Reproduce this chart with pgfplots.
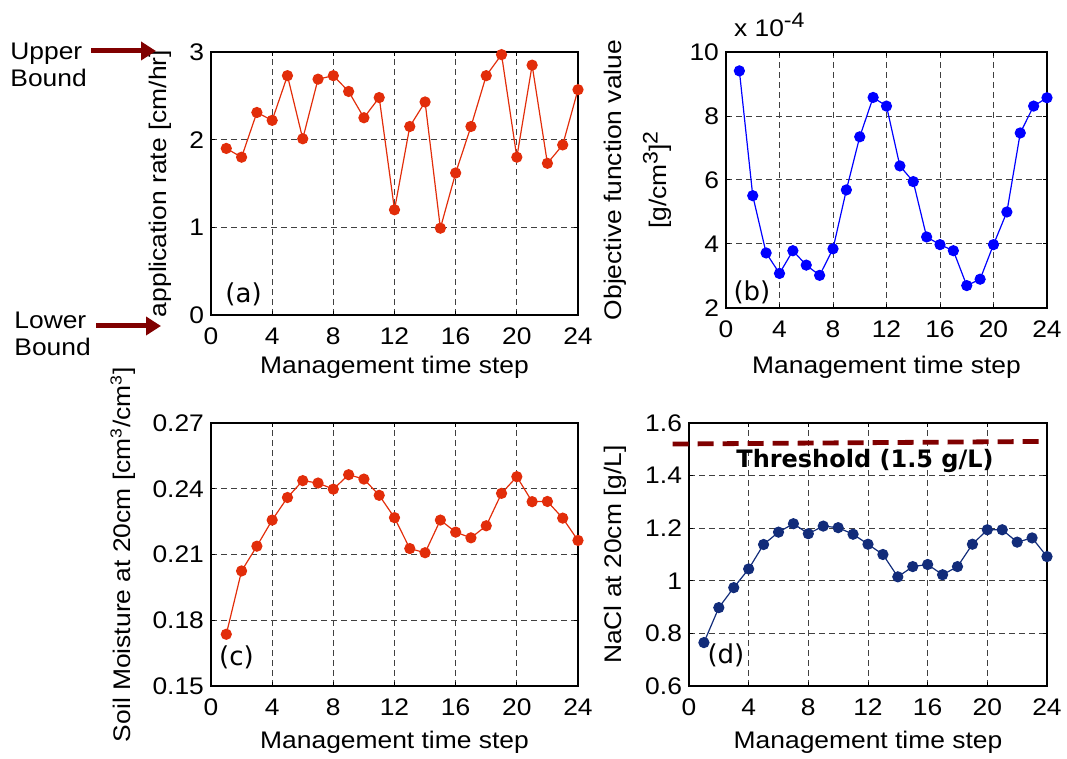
\documentclass[border=0pt]{standalone}
\usepackage{pgfplots}
\pgfplotsset{compat=1.18}
\usepackage{pgfplotstable}
\usepackage{fontspec}
\setmainfont{Liberation Sans}[FakeStretch=1.1]
\newfontfamily\dejavu{DejaVu Sans}
\usetikzlibrary{arrows.meta}

\definecolor{ptred}{RGB}{226,45,10}
\definecolor{ptblue}{RGB}{0,0,255}
\definecolor{ptnavy}{RGB}{18,44,122}
\definecolor{bound}{RGB}{128,0,0}

% application rate [cm/hr]
\pgfplotstableread{
t v
1 1.90
2 1.80
3 2.31
4 2.22
5 2.73
6 2.01
7 2.69
8 2.73
9 2.55
10 2.25
11 2.48
12 1.20
13 2.15
14 2.43
15 0.99
16 1.62
17 2.15
18 2.73
19 2.97
20 1.80
21 2.85
22 1.73
23 1.94
24 2.57
}\rateA

% objective function value (x 1e-4)
\pgfplotstableread{
t v
1 9.41
2 5.51
3 3.72
4 3.08
5 3.79
6 3.34
7 3.02
8 3.85
9 5.69
10 7.35
11 8.58
12 8.31
13 6.44
14 5.95
15 4.22
16 3.98
17 3.79
18 2.70
19 2.90
20 3.98
21 5.00
22 7.47
23 8.31
24 8.57
}\objB

% soil moisture at 20cm
\pgfplotstableread{
t v
1 0.1736
2 0.2025
3 0.2138
4 0.2257
5 0.2360
6 0.2437
7 0.2426
8 0.2398
9 0.2464
10 0.2444
11 0.2370
12 0.2268
13 0.2127
14 0.2108
15 0.2257
16 0.2202
17 0.2176
18 0.2231
19 0.2379
20 0.2455
21 0.2341
22 0.2342
23 0.2266
24 0.2164
}\moistC

% NaCl at 20cm
\pgfplotstableread{
t v
1 0.765
2 0.898
3 0.974
4 1.045
5 1.138
6 1.185
7 1.217
8 1.179
9 1.208
10 1.202
11 1.177
12 1.139
13 1.100
14 1.015
15 1.054
16 1.062
17 1.023
18 1.054
19 1.139
20 1.194
21 1.194
22 1.147
23 1.163
24 1.092
}\naclD

\tikzset{tag/.style={font=\dejavu\fontsize{13}{15}\selectfont}}
\newcommand{\upsc}[1]{\raisebox{4.5pt}{\fontsize{10.5}{12}\selectfont #1}}

\pgfplotsset{
  panel/.style={
    scale only axis, anchor=south west,
    xmin=0, xmax=24, xtick={0,4,...,24},
    grid=major,
    major grid style={black!75, dash pattern=on 3pt off 2pt, line width=0.5pt},
    axis line style={line width=0.7pt},
    tick style={black, line width=0.5pt}, major tick length=2pt,
    ticklabel style={font=\fontsize{12}{14}\selectfont},
    xticklabel style={yshift=-3pt},
    label style={font=\fontsize{12}{14}\selectfont},
    /pgf/number format/assume math mode=true,
    xlabel={Management time step},
    every axis plot/.append style={line width=0.6pt, mark=*, mark size=2.5pt},
    clip=false,
  },
}

\begin{document}
\begin{tikzpicture}
\path[use as bounding box] (0,0) rectangle (533.5pt,379.5pt);

% (a)
\begin{axis}[panel, at={(105.5pt,222pt)}, width=183.5pt, height=131.5pt,
  ymin=0, ymax=3, ytick={0,1,2,3},
  ylabel={application rate [cm/hr]},
  ylabel style={at={(axis description cs:-0.139,0.5)}, anchor=center},
  xlabel style={at={(axis description cs:0.5,-0.198)}, anchor=center}]
\addplot[ptred, mark options={fill=ptred}] table[x=t, y=v] {\rateA};
\node[tag] at (axis cs:2.13,0.23) {(a)};
\end{axis}

% (b)
\begin{axis}[panel, at={(363pt,225.5pt)}, width=160.5pt, height=128pt,
  ymin=2, ymax=10, ytick={2,4,6,8,10},
  ylabel={Objective function value\\[7pt][g/cm\upsc{3}]\upsc{2}},
  ylabel style={align=center, at={(axis description cs:-0.274,0.5)}, anchor=center},
  xlabel style={at={(axis description cs:0.5,-0.23)}, anchor=center}]
\addplot[ptblue, mark options={fill=ptblue}] table[x=t, y=v] {\objB};
\node[tag] at (axis cs:1.94,2.48) {(b)};
\end{axis}

% (c)
\begin{axis}[panel, at={(105.5pt,36.5pt)}, width=183.5pt, height=131.5pt,
  ymin=0.15, ymax=0.27, ytick={0.15,0.18,0.21,0.24,0.27},
  yticklabel style={/pgf/number format/.cd, fixed, fixed zerofill, precision=2},
  ylabel={Soil Moisture at 20cm [cm\textsuperscript{3}/cm\textsuperscript{3}]},
  ylabel style={at={(axis description cs:-0.24,0.5)}, anchor=center},
  xlabel style={at={(axis description cs:0.5,-0.213)}, anchor=center}]
\addplot[ptred, mark options={fill=ptred}] table[x=t, y=v] {\moistC};
\node[tag] at (axis cs:1.67,0.163) {(c)};
\end{axis}

% (d)
\begin{axis}[panel, at={(344.5pt,36.5pt)}, width=179pt, height=131.5pt,
  ymin=0.6, ymax=1.6, ytick={0.6,0.8,1,1.2,1.4,1.6},
  ylabel={NaCl at 20cm [g/L]},
  ylabel style={at={(axis description cs:-0.207,0.5)}, anchor=center},
  xlabel style={at={(axis description cs:0.5,-0.213)}, anchor=center}]
\addplot[bound, no marks, line width=2.4pt, dash pattern=on 8pt off 4.5pt]
  coordinates {(-1.1,1.52) (24,1.53)};
\addplot[ptnavy, mark options={fill=ptnavy}] table[x=t, y=v] {\naclD};
\node[font=\dejavu\bfseries\fontsize{12}{14}\selectfont] at (axis cs:11.8,1.454) {Threshold (1.5 g/L)};
\node[tag] at (axis cs:2.48,0.718) {(d)};
\end{axis}

% scale factor of panel (b)
\node[anchor=base west, font=\fontsize{12}{14}\selectfont] at (363.5pt,361pt) {x 10\upsc{-4}};

% bound annotations
\node[anchor=west, align=left, inner sep=0pt, font=\fontsize{12}{13.5}\selectfont] at (5pt,347pt) {Upper\\Bound};
\node[anchor=west, align=left, inner sep=0pt, font=\fontsize{12}{13.5}\selectfont] at (7pt,212.5pt) {Lower\\Bound};
\draw[bound, line width=2.5pt, -{Triangle[length=7.5pt,width=9pt]}] (45.5pt,354pt) -- (78pt,354pt);
\draw[bound, line width=2.5pt, -{Triangle[length=7.5pt,width=9pt]}] (48pt,216.5pt) -- (80.5pt,216.5pt);
\end{tikzpicture}
\end{document}
